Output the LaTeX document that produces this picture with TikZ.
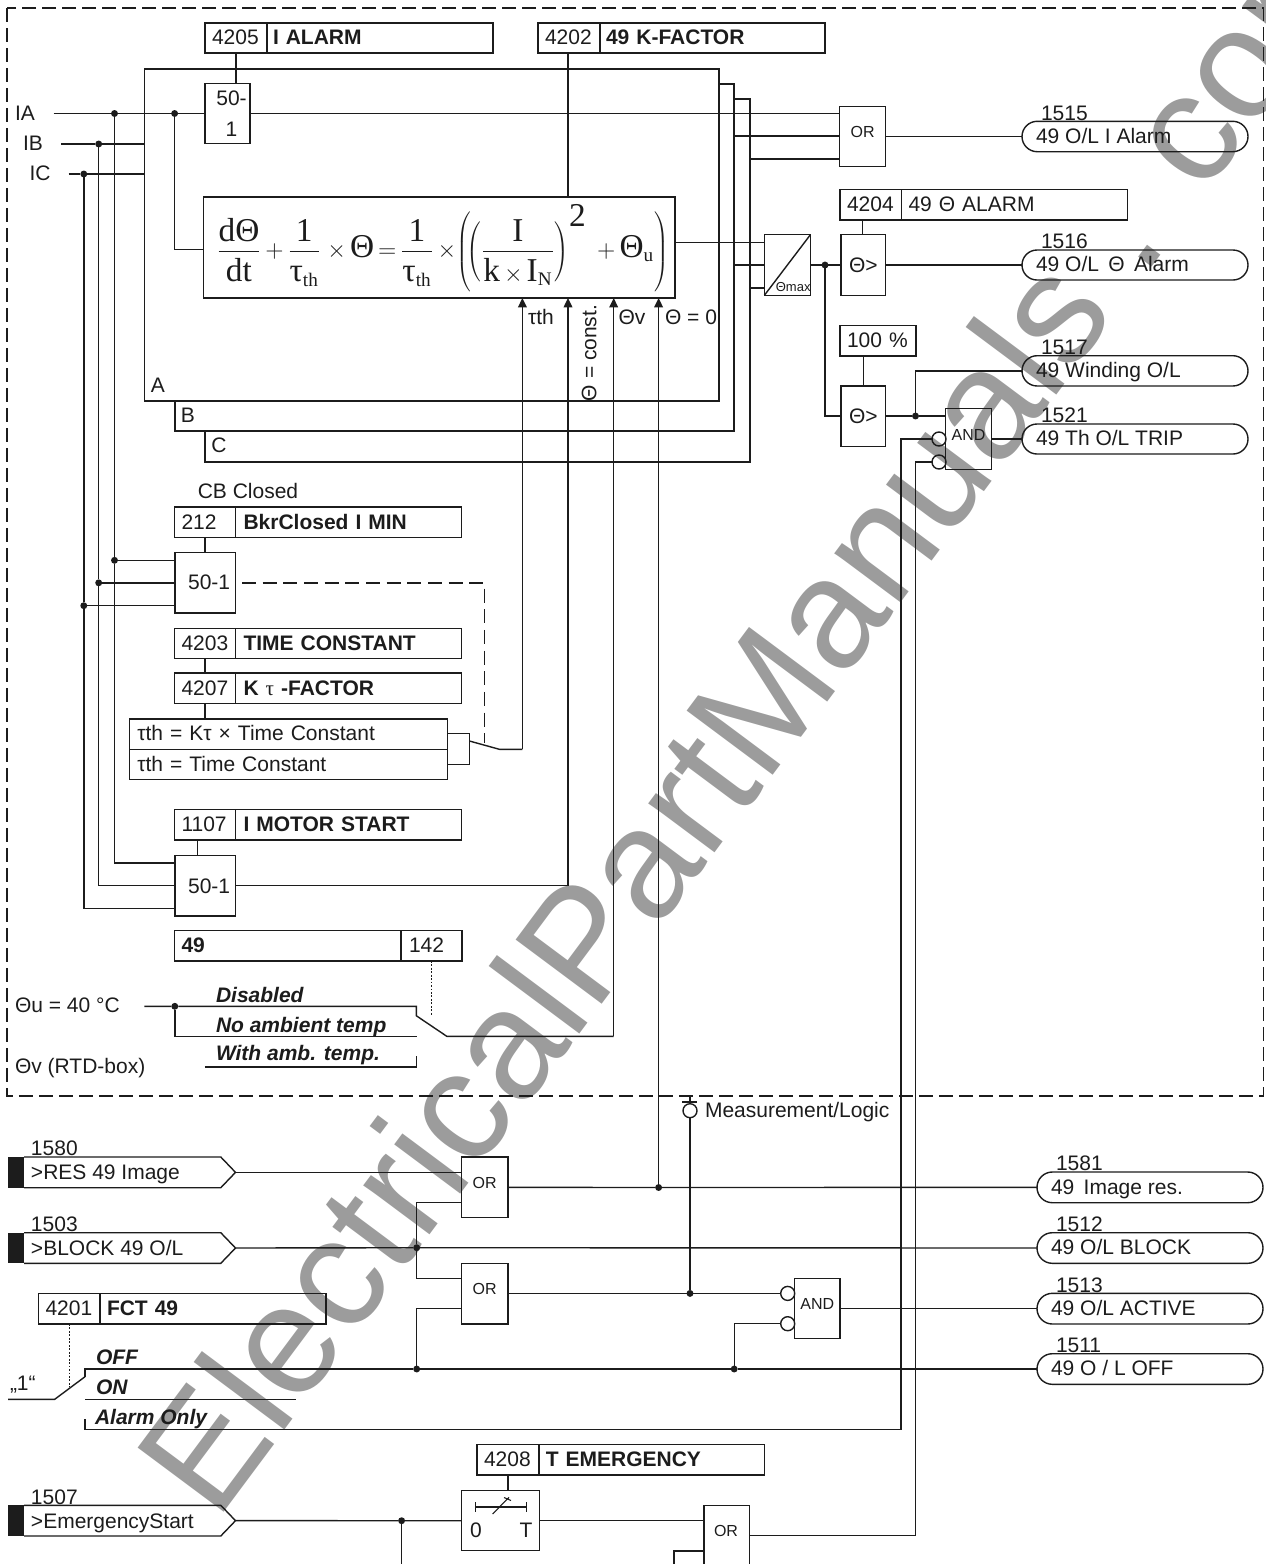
\documentclass[tikz,border=0pt]{standalone}
\usepackage{fontspec}
\usepackage{graphicx}
\setmainfont{Liberation Sans}
\newfontfamily\ser{Liberation Serif}
\usetikzlibrary{arrows.meta,shapes.misc,calc}
\definecolor{ink}{HTML}{1C1C1C}
\definecolor{wmgray}{HTML}{9C9C9C}
\newcommand\gatetxt[1]{\raisebox{3.2pt}[\height][\depth]{\fontsize{12}{14}\selectfont #1}}
\newcommand\ff[1]{\mbox{\fontsize{20}{24}\selectfont\ser #1}}
\newcommand\fs[1]{\mbox{\fontsize{11.5}{14}\selectfont\ser #1}}
\newcommand\nst{\rule[-3pt]{0pt}{3pt}}
\newcommand\dst{\rule{0pt}{16.5pt}}
\tikzset{
  base/.style={font=\fontsize{15.75}{18}\selectfont,inner sep=0pt,outer sep=0pt},
  box/.style={base,draw=ink,rectangle,align=center},
  cell/.style={base,rectangle,text height=10.2pt,text depth=0pt,align=left},
  lbl/.style={base,text=ink,text height=11.2pt,text depth=0pt},
  lleft/.style={lbl,anchor=west},
  italic/.style={lleft,font=\fontsize{15.75}{18}\selectfont\bfseries\itshape},
  pillbox/.style={base,draw=ink,rounded rectangle,text height=10.2pt,text depth=0pt,align=left},
  dot/.style={circle,fill=ink,draw=none,minimum size=5.2pt,inner sep=0pt,outer sep=0pt},
  neg/.style={circle,draw=ink,minimum size=10.5pt,inner sep=0pt,outer sep=0pt},
  arr/.style={-{Triangle[length=7pt,width=6.5pt]}},
  dashline/.style={dash pattern=on 10.5pt off 5pt},
  dotline/.style={line width=.7pt,dash pattern=on 1.4pt off 1.2pt},
  frame/.style={dash pattern=on 10.5pt off 4.5pt,line width=1pt}
}
% rectangle node from its corners
\newcommand\rbox[6]{\node[box,minimum width={(#4-#2)*0.75pt},minimum height={(#5-#3)*0.75pt}] (#1) at ({(#2+#4)/2},{(#3+#5)/2}) {#6};}
% text cell, left aligned, from its corners
\newcommand\rcell[7][7]{\node[cell,draw=ink,minimum height={(#6-#4)*0.75pt},minimum width={(#5-#3)*0.75pt},text width={(#5-#3-2)*0.75pt},inner xsep=0pt] (#2) at ({(#3+#5)/2},{(#4+#6)/2}) {\hspace*{\dimexpr #1\dimexpr 0.75pt\relax-0.75pt\relax}#7};}
\newcommand\pillnode[7]{\node[pillbox,minimum width={(#4-#2)*0.75pt},minimum height={(#5-#3)*0.75pt}] (#1) at ({(#2+#4)/2},{(#3+#5)/2}) {\makebox[{\dimexpr(#4pt-#2pt-28pt)*3/4\relax}][l]{#7}};
  \node[lleft] (#1n) at ({#2+19},{#3-8.5}) {#6};}
\newcommand\jn[3]{\node[dot] (#1) at (#2,#3) {};}
\newcommand\intag[5]{% name y1 y2 number text
  \fill[ink] (8,#2) rectangle (24,#3);
  \draw (24,#2) -- (220.8,#2) -- (235.5,{(#2+#3)/2}) -- (220.8,#3) -- (24,#3);
  \coordinate (#1) at (235.5,{(#2+#3)/2});
  \node[lleft] (#1n) at (31,{#2-8.5}) {#4};
  \node[lleft] (#1t) at (31,{(#2+#3)/2}) {#5};}
\begin{document}
\begin{tikzpicture}[x=0.75pt,y=-0.75pt,line width=1.05pt,color=ink,line join=miter]
\useasboundingbox (0,0) rectangle (1266,1564);
\clip (0,0) rectangle (1266,1564);
% watermark
\node[base,anchor=base west,rotate=53.3,text=wmgray,font=\fontsize{117}{117}\selectfont] (wm) at (216,1522) {ElectricalPartManuals . com};

% frame
\draw[frame] (7,8) rectangle (1263.5,1096);

% setting boxes
\rcell{s4205}{205}{23}{267}{53}{4205}
\rcell[6]{s4205t}{267}{23}{493}{53}{\bfseries I ALARM}
\rcell{s4202}{538}{23}{600}{53}{4202}
\rcell[6]{s4202t}{600}{23}{825}{53}{\bfseries 49 K-FACTOR}
\rcell{s4204}{840}{189.5}{901.5}{220}{4204}
\rcell[7]{s4204t}{901.5}{189.5}{1127.5}{220}{49 Θ ALARM}
\rcell{s100}{840}{325.5}{916}{356}{100 \%}
\rcell{s212}{174.5}{507}{235.5}{537.5}{212}
\rcell[8]{s212t}{235.5}{507}{461.5}{537.5}{\bfseries BkrClosed I MIN}
\rcell{s4203}{174.5}{628.3}{235.5}{658.3}{4203}
\rcell[8]{s4203t}{235.5}{628.3}{461.5}{658.3}{\bfseries TIME CONSTANT}
\rcell{s4207}{174.5}{673}{235.5}{703.4}{4207}
\rcell[8]{s4207t}{235.5}{673}{461.5}{703.4}{\bfseries K {\mdseries\ser τ} -FACTOR}
\rcell{s1107}{174.5}{809.4}{235.5}{839.8}{1107}
\rcell[8]{s1107t}{235.5}{809.4}{461.5}{839.8}{\bfseries I MOTOR START}
\rcell{s49}{174.5}{930.4}{401}{960.8}{\bfseries 49}
\rcell[8]{s142}{401}{930.4}{462}{960.8}{142}
\rcell{s4201}{38.5}{1293.5}{100}{1324}{4201}
\rcell{s4201t}{100}{1293.5}{326}{1324}{\bfseries FCT 49}
\rcell{s4208}{477}{1444.7}{538.8}{1475}{4208}
\rcell{s4208t}{538.8}{1444.7}{764.5}{1475}{\bfseries T EMERGENCY}
\rcell[8]{t1}{129.3}{718.8}{447.2}{749.3}{τth = Kτ × Time Constant}
\rcell[8]{t2}{129.3}{749.3}{447.2}{779.3}{τth = Time Constant}

% blocks
\rbox{blockA}{144.5}{69}{719}{401}{}
\rbox{n501}{205}{83.5}{250}{143.5}{\hspace*{6pt}50-\\[5pt]\hspace*{6pt}1}
\rbox{f}{203.5}{197}{675}{298}{\makebox[340pt][l]{\hspace*{3pt}\raisebox{2.5pt}[45pt][25pt]{\scalebox{1.25}{\delimiterfactor=800 \delimitershortfall=14pt$\displaystyle
  \frac{\ff{dΘ}\nst}{\ff{dt}\dst}\,{+}\,\frac{\ff{\,1\,}\nst}{\dst\ff{τ}_{\fs{th}}}\;{\times}\,\ff{Θ}\,{=}\,\frac{\ff{1}\nst}{\dst\ff{τ}_{\fs{th}}}\,{\times}\!\left(\!\left(\frac{\ff{I}\nst}{\dst\ff{k}\,{\times}\,\ff{I}_{\fs{N}}}\right)^{\ff{2}}\;{+}\,\ff{Θ}_{\fs{u}}\right)$}}}}
\rbox{or1}{839.7}{106.3}{885.7}{166.7}{\gatetxt{OR}}
\rbox{conv}{764.4}{234.7}{810.4}{295.3}{}
\rbox{cmp1}{841}{234.7}{885.7}{295.3}{Θ>}
\rbox{cmp2}{841}{386}{885.7}{446.3}{Θ>}
\rbox{and1}{945.7}{408.7}{991.3}{469.3}{\gatetxt{AND}}
\rbox{m1}{174.8}{552.4}{235.5}{612.9}{\hspace*{6pt}50-1}
\rbox{m2}{174.8}{855.6}{235.5}{916}{\hspace*{6pt}50-1}
\rbox{or2}{461.6}{1157}{507.8}{1217.7}{\gatetxt{OR}}
\rbox{or3}{461.6}{1263.3}{507.8}{1324}{\gatetxt{OR}}
\rbox{and2}{794.5}{1278.3}{840}{1338.7}{\gatetxt{AND}}
\rbox{tm}{461.2}{1490.3}{539.6}{1550.3}{}
\rbox{or4}{703.9}{1505.3}{749.4}{1600}{}
\node[lbl,font=\fontsize{12}{14}\selectfont,text height=8.6pt] (or4t) at (726,1531) {OR};

% converter inner
\draw (conv.south west) -- (conv.north east);
\node[lbl,anchor=east,font=\fontsize{9.75}{11}\selectfont,text height=7pt] (convt) at (810.5,287) {Θmax};

% timer inner
\coordinate (tbL) at (475.5,1507); \coordinate (tbR) at (526.5,1507);
\draw[line width=.8pt] (tbL) -- (tbR);
\draw[line width=.8pt] (475.5,1502) -- (475.5,1512) (526.5,1502) -- (526.5,1512);
\draw[line width=.8pt] (492.6,1514) -- (509,1497.3) (504,1497.5) -- (511,1500.5);
\node[lbl] (t0) at (476,1530) {0};
\node[lbl] (tT) at (526,1530) {T};

% pills
\pillnode{p1515}{1022}{121.3}{1248}{151.7}{1515}{49 O/L I Alarm}
\pillnode{p1516}{1022}{250}{1248}{280}{1516}{49 O/L \,Θ\, Alarm}
\pillnode{p1517}{1022}{355.7}{1248}{386}{1517}{49 Winding O/L}
\pillnode{p1521}{1022}{424}{1248}{454}{1521}{49 Th O/L TRIP}
\pillnode{p1581}{1037}{1172}{1263}{1202.7}{1581}{49 \,Image res.}
\pillnode{p1512}{1037}{1232.7}{1263}{1263.3}{1512}{49 O/L BLOCK}
\pillnode{p1513}{1037}{1293.3}{1263}{1324}{1513}{49 O/L ACTIVE}
\pillnode{p1511}{1037}{1353.7}{1263}{1384.3}{1511}{49 O / L OFF}

% input tags
\intag{i1580}{1157}{1187.7}{1580}{>RES 49 Image}
\intag{i1503}{1232.7}{1263.3}{1503}{>BLOCK 49 O/L}
\intag{i1507}{1505.3}{1536}{1507}{>EmergencyStart}

% free labels
\node[lbl] (lIA) at (25,113) {IA};
\node[lbl] (lIB) at (33,143) {IB};
\node[lbl] (lIC) at (40,173) {IC};
\node[lbl] (lA) at (158,385) {A};
\node[lbl] (lB) at (188,415) {B};
\node[lbl] (lC) at (219,445) {C};
\node[lbl] (ltau) at (541,317) {τth};
\node[lbl,rotate=90] (lconst) at (589,353) {Θ = const.};
\node[lbl] (lthv) at (632,317) {Θv};
\node[lbl] (lth0) at (691,317) {Θ = 0};
\node[lbl] (lcb) at (248,491) {CB Closed};
\node[lleft] (lthu) at (15,1005) {Θu = 40 °C};
\node[lleft] (lrtd) at (15,1066) {Θv (RTD-box)};
\node[italic] (ldis) at (216,995) {Disabled};
\node[italic] (lnoa) at (216,1025) {No ambient temp};
\node[italic] (lwit) at (216,1053) {With amb. temp.};
\node[lleft] (lml) at (705,1110) {Measurement/Logic};
\node[italic] (loff) at (96,1357) {OFF};
\node[italic] (lon) at (96,1387) {ON};
\node[italic] (lalm) at (95,1417) {Alarm Only};
\node[lleft] (lone) at (10,1383) {„1“};

% junctions
\jn{ja1}{114.5}{113.5} \jn{ja2}{174.6}{113.5}
\jn{jb1}{98.7}{144} \jn{jc1}{83.8}{174}
\jn{jm1}{114.5}{560.3} \jn{jm2}{98.7}{582.8} \jn{jm3}{83.8}{605.7}
\jn{jc}{825}{265} \jn{jw}{915.5}{416}
\jn{ju}{174.8}{1006.3}
\jn{jz}{658.6}{1187.5} \jn{jb}{416.7}{1247.7} \jn{jo}{416.7}{1369}
\jn{jq}{690}{1293.4} \jn{jr}{734.2}{1369} \jn{je}{401.6}{1520.7}

% negated inputs
\node[neg] (na1) at (939,439) {};
\node[neg] (na2) at (939,462) {};
\node[neg] (nb1) at (787.7,1293.4) {};
\node[neg] (nb2) at (787.7,1323.7) {};
\node[neg] (ml) at (690,1110.7) {};

% free ends
\coordinate (IAs) at (53.5,113.5);
\coordinate (IBs) at (61,144);
\coordinate (ICs) at (68.5,174);
\coordinate (B0) at (175,401);
\coordinate (B1) at (719,84);
\coordinate (C0) at (205,431);
\coordinate (C1) at (734,99);
\coordinate (Bo) at (734,136);
\coordinate (Co) at (750,159);
\coordinate (Bc) at (734,265);
\coordinate (Cc) at (750,288);
\coordinate (dash0) at (242,583);
\coordinate (sw1) at (469.4,741);
\coordinate (sw2) at (499.4,749.3);
\coordinate (swT) at (522.4,749.3);
\coordinate (uS) at (144.3,1006.3);
\coordinate (u2) at (416.4,1015.8);
\coordinate (u3) at (446.8,1036.3);
\coordinate (u4) at (613.7,1036.3);
\coordinate (mT) at (568,885.7);
\coordinate (z1) at (85,1376.7);
\coordinate (z2) at (54.7,1399.3);
\coordinate (z3) at (8,1399.3);
\coordinate (zon) at (296,1399.3);
\coordinate (zal) at (85,1419);
\coordinate (zbar) at (690,1102);
\coordinate (eB) at (401.6,1564);
\coordinate (oB) at (674,1564);

% connectors: current inputs
\draw (IAs) -- (ja1) -- (ja2) -- (n501.west);
\draw (IBs) -- (jb1) -- (blockA.west |- jb1);
\draw (ICs) -- (jc1) -- (blockA.west |- jc1);
\draw (ja1) -- (jm1);
\draw (jb1) -- (jm2);
\draw (jc1) -- (jm3);
\draw (jm1) -- (m1.west |- jm1);
\draw (jm2) -- (m1.west |- jm2);
\draw (jm3) -- (m1.west |- jm3);
\draw (jm1) |- (m2.west |- 0,862.8);
\draw (jm2) |- (m2.west |- 0,885.7);
\draw (jm3) |- (m2.west |- 0,908.2);
\draw (ja2) |- (f.west |- 0,249.7);

% blocks B and C
\draw (B0) |- (734,431) |- (B1);
\draw (C0) |- (750,462) |- (C1);
\draw (n501.east) -- (or1.west |- n501.east);
\draw (Bo) -- (or1.west |- Bo);
\draw (Co) -- (or1.west |- Co);
\draw (or1.east |- p1515) -- (p1515.west);

% settings to blocks
\draw (s4205.south) -- (s4205.south |- n501.north);
\draw (s4202.south) ++(-1,0) coordinate (k0) -- (f.north -| k0);
\draw (862.5,220) -- (cmp1.north -| 862.5,0);
\draw (863.7,356) -- (cmp2.north -| 863.7,0);
\draw (s212.south) -- (m1.north -| s212.south);
\draw (s4203.south) -- (s4207.north);
\draw (s4207.south) -- (s4207.south |- t1.north);
\draw (197.3,839.8) -- (m2.north -| 197.3,0);

% outputs
\draw (f.east |- 0,242.7) -- (conv.west |- 0,242.7);
\draw (Bc) -- (Bc -| conv.west);
\draw (Cc) -- (Cc -| conv.west);
\draw (conv.east |- jc) -- (jc) -- (cmp1.west |- jc);
\draw (cmp1.east |- p1516) -- (p1516.west);
\draw (jc) |- (cmp2.west |- jw);
\draw (cmp2.east |- jw) -- (jw) -- (and1.west |- jw);
\draw (jw) |- (p1517.west);
\draw (and1.east |- na1) -- (p1521.west |- na1);
\draw (na1.west) -- (901,439) -- (901,1429.7) -- (85,1429.7) -- (zal);
\draw (na2.west) -- (915.5,462) -- (915.5,1535.7) -- (or4.east |- 0,1535.7);

% arrows into the formula
\draw[arr] (swT) -- (f.south -| swT);
\draw[arr] (mT) -- (f.south -| mT);
\draw (m2.east |- mT) -- (mT);
\draw[arr] (u4) -- (f.south -| u4);
\draw[arr] (jz) -- (f.south -| jz);

% dashed control and switches
\draw[dashline] (dash0) -| (484.4,743);
\draw (t1.east |- 0,733.5) -| (469.4,741) (469.4,741) |- (t2.east |- 0,764.3);
\draw (sw1) -- (sw2) -- (swT);
\draw[dotline] (s142.south) ++(0,0) -- (s142.south |- u2);
\draw (uS) -- (ju) -- (416.4,1006.3) -- (u2) -- (u3) -- (u4);
\draw (ju) |- (417,1036.3);
\draw (204.8,1066.8) -- (416.4,1066.8) -- (416.4,1056);
\draw[dotline] (s4201.south) -- (s4201.south |- 0,1386.7);

% lower logic
\draw (i1580) -- (or2.west |- i1580);
\draw (i1503) -- (jb) -- (p1512.west);
\draw (or2.west |- 0,1202.7) -- (416.7,1202.7) -- (jb);
\draw (jb) |- (or3.west |- 0,1278.3);
\draw (jo) |- (or3.west |- 0,1308.7);
\draw (or2.east) -- (jz) -- (p1581.west);
\draw (or3.east |- jq) -- (jq) -- (nb1.west);
\draw (jq) -- (ml.south);
\draw (ml.north) -- (zbar) -- (690,1096);
\draw (682,1102) -- (697,1102);
\draw (and2.east |- p1513) -- (p1513.west);
\draw (jr) |- (nb2.west);
\draw (z1) -- (85,1369) -- (jo) -- (jr) -- (p1511.west);
\draw (z1) -- (z2) -- (z3);
\draw (85,1399.3) -- (zon);
\draw (i1507) -- (je) -- (tm.west |- je);
\draw (je) -- (eB);
\draw (tm.east |- je) -- (or4.west |- je);
\draw (or4.west |- 0,1551) -- (674,1551) -- (oB);
\draw (s4208.south) -- (tm.north -| s4208.south);
\end{tikzpicture}
\end{document}
